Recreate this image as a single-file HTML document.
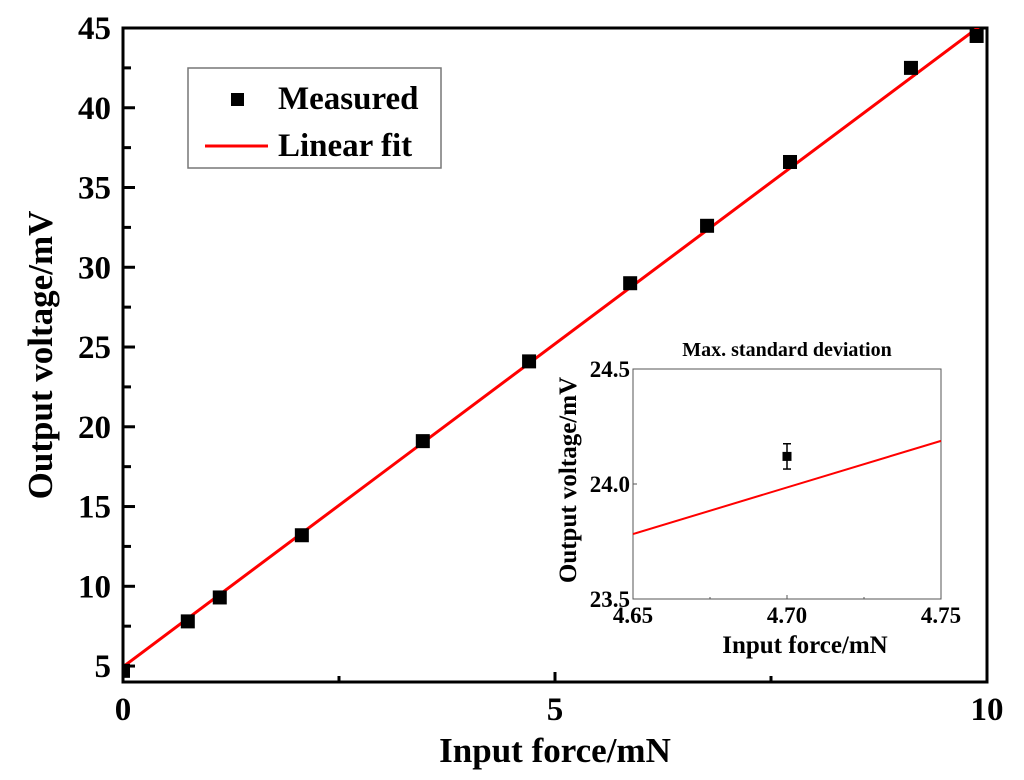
<!DOCTYPE html>
<html><head><meta charset="utf-8"><style>
html,body{margin:0;padding:0;background:#fff;}
svg{display:block;font-family:"Liberation Serif",serif;font-weight:bold;}
</style></head><body>
<svg id="chart" width="1024" height="780" viewBox="0 0 1024 780" xmlns="http://www.w3.org/2000/svg"></svg>
<script>
const xValues=[0,0.75,1.12,2.07,3.47,4.70,5.87,6.76,7.72,9.12,9.88];
const yValues=[4.7,7.8,9.3,13.2,19.1,24.1,29.0,32.6,36.6,42.5,44.5];
const fitSlope=4.05, fitIntercept=4.95;
const xTicks=[0,5,10];
const xMinorTicks=[2.5,7.5];
const yTicks=[5,10,15,20,25,30,35,40,45];
const yMinorTicks=[7.5,12.5,17.5,22.5,27.5,32.5,37.5,42.5];
const insetX=[4.70], insetY=[24.12], insetErr=[0.055];
const insetXTicks=["4.65","4.70","4.75"];
const insetYTicks=["23.5","24.0","24.5"];

const NS="http://www.w3.org/2000/svg";
const svg=document.getElementById('chart');
function mk(tag,attrs,parent){const e=document.createElementNS(NS,tag);for(const k in attrs)e.setAttribute(k,attrs[k]);(parent||svg).appendChild(e);return e;}
const L=123,R=987,T=28,B=682,XMIN=0,XMAX=10,YMIN=4.0,YMAX=45;
const sx=v=>L+(v-XMIN)/(XMAX-XMIN)*(R-L);
const sy=v=>B-(v-YMIN)/(YMAX-YMIN)*(B-T);

let g=mk('g',{});


let fr=mk('rect',{x:L,y:T,width:R-L,height:B-T,fill:'none',stroke:'#000','stroke-width':3},g);


xTicks.forEach(v=>{
  mk('line',{x1:sx(v),x2:sx(v),y1:B,y2:B-10,stroke:'#000','stroke-width':3},g);
  const t=mk('text',{x:sx(v),y:B+38,'text-anchor':'middle','font-size':33},g);t.textContent=v;
  
  
});
xMinorTicks.forEach(v=>mk('line',{x1:sx(v),x2:sx(v),y1:B,y2:B-6,stroke:'#000','stroke-width':3},g));
yTicks.forEach(v=>{
  mk('line',{x1:L,x2:L+12,y1:sy(v),y2:sy(v),stroke:'#000','stroke-width':3},g);
  const t=mk('text',{x:L-12,y:sy(v)+11,'text-anchor':'end','font-size':33},g);t.textContent=v;
  
  
});
yMinorTicks.forEach(v=>mk('line',{x1:L,x2:L+8,y1:sy(v),y2:sy(v),stroke:'#000','stroke-width':3},g));
let xt=mk('text',{x:555,y:762,'text-anchor':'middle','font-size':35},g);xt.textContent='Input force/mN';


let yt=mk('text',{x:0,y:0,'text-anchor':'middle','font-size':35,transform:'translate(52,355) rotate(-90)'},g);yt.textContent='Output voltage/mV';


const defs=mk('defs',{});const cp=mk('clipPath',{id:'mc'},defs);mk('rect',{x:L,y:T,width:R-L,height:B-T},cp);
const cg=mk('g',{'clip-path':'url(#mc)'},g);
let fl=mk('line',{x1:sx(XMIN),y1:sy(fitIntercept+fitSlope*XMIN),x2:sx(XMAX),y2:sy(fitIntercept+fitSlope*XMAX),stroke:'#f00','stroke-width':3},cg);


xValues.forEach((x,i)=>{
  const p=mk('rect',{x:sx(x)-7,y:sy(yValues[i])-7,width:14,height:14,fill:'#000'},cg);
  
  
});
let lg=mk('g',{},g);


mk('rect',{x:188,y:68,width:253,height:100,fill:'#fff',stroke:'#777','stroke-width':1.5},lg);
mk('rect',{x:231,y:93,width:13,height:13,fill:'#000'},lg);
let l1=mk('text',{x:278,y:109,'font-size':33},lg);l1.textContent='Measured';


mk('line',{x1:205,x2:268,y1:146,y2:146,stroke:'#f00','stroke-width':3},lg);
let l2=mk('text',{x:278,y:156,'font-size':33},lg);l2.textContent='Linear fit';



const IL=633,IR=941,IT=369,IB=599,IXMIN=4.65,IXMAX=4.75,IYMIN=23.5,IYMAX=24.5;
const ix=v=>IL+(v-IXMIN)/(IXMAX-IXMIN)*(IR-IL);
const iy=v=>IB-(v-IYMIN)/(IYMAX-IYMIN)*(IB-IT);
let ig=mk('g',{});


mk('rect',{x:IL,y:IT,width:IR-IL,height:IB-IT,fill:'#fff',stroke:'#555','stroke-width':1},ig);
let itl=mk('text',{x:787,y:356,'text-anchor':'middle','font-size':20},ig);itl.textContent='Max. standard deviation';


insetXTicks.forEach(s=>{const v=+s;
  mk('line',{x1:ix(v),x2:ix(v),y1:IB,y2:IB-4,stroke:'#555'},ig);
  const t=mk('text',{x:ix(v),y:IB+24,'text-anchor':'middle','font-size':23},ig);t.textContent=s;
  
  
});
[4.675,4.725].forEach(v=>mk('line',{x1:ix(v),x2:ix(v),y1:IB,y2:IB-2,stroke:'#555'},ig));
insetYTicks.forEach(s=>{const v=+s;
  mk('line',{x1:IL,x2:IL+4,y1:iy(v),y2:iy(v),stroke:'#555'},ig);
  const t=mk('text',{x:IL-3,y:iy(v)+8,'text-anchor':'end','font-size':23},ig);t.textContent=s;
  
  
});
let ixt=mk('text',{x:805,y:653,'text-anchor':'middle','font-size':25},ig);ixt.textContent='Input force/mN';


let iyt=mk('text',{x:0,y:0,'text-anchor':'middle','font-size':25,transform:'translate(576,480) rotate(-90)'},ig);iyt.textContent='Output voltage/mV';


let ifl=mk('line',{x1:ix(IXMIN),y1:iy(fitIntercept+fitSlope*IXMIN),x2:ix(IXMAX),y2:iy(fitIntercept+fitSlope*IXMAX),stroke:'#f00','stroke-width':2},ig);


insetX.forEach((x,i)=>{
  const y=insetY[i],e=insetErr[i];
  mk('line',{x1:ix(x),x2:ix(x),y1:iy(y+e),y2:iy(y-e),stroke:'#000','stroke-width':1.5},ig);
  mk('line',{x1:ix(x)-4,x2:ix(x)+4,y1:iy(y+e),y2:iy(y+e),stroke:'#000','stroke-width':1.5},ig);
  mk('line',{x1:ix(x)-4,x2:ix(x)+4,y1:iy(y-e),y2:iy(y-e),stroke:'#000','stroke-width':1.5},ig);
  const p=mk('rect',{x:ix(x)-4.5,y:iy(y)-4.5,width:9,height:9,fill:'#000'},ig);
  
  
});
</script>
</body></html>
